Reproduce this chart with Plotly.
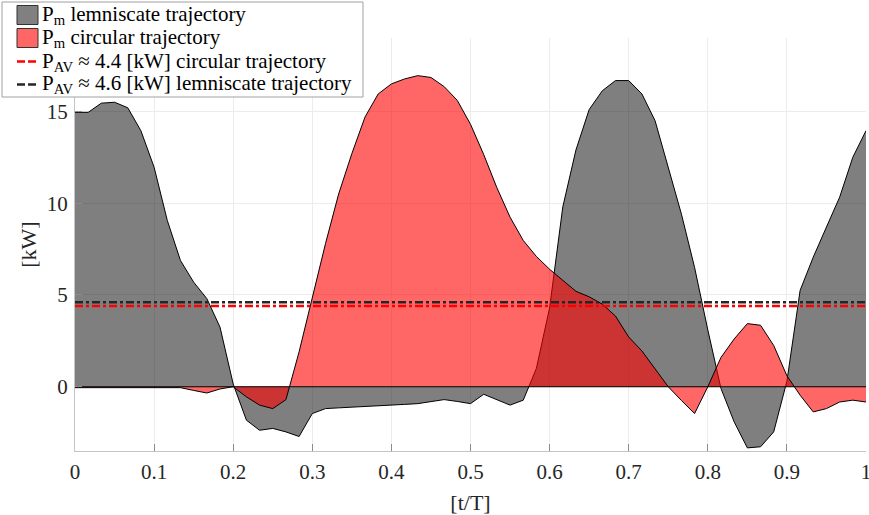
import plotly.graph_objects as go

# normalized time t/T
t = [0.0, 0.0167, 0.0333, 0.05, 0.0667, 0.0833, 0.1, 0.1167, 0.1333, 0.15,
     0.1667, 0.1833, 0.2, 0.2167, 0.2333, 0.25, 0.2667, 0.2833, 0.3, 0.3167,
     0.3333, 0.35, 0.3667, 0.3833, 0.4, 0.4167, 0.4333, 0.45, 0.4667, 0.4833,
     0.5, 0.5167, 0.5333, 0.55, 0.5667, 0.5833, 0.6, 0.6167, 0.6333, 0.65,
     0.6667, 0.6833, 0.7, 0.7167, 0.7333, 0.75, 0.7667, 0.7833, 0.8, 0.8167,
     0.8333, 0.85, 0.8667, 0.8833, 0.9, 0.9167, 0.9333, 0.95, 0.9667, 0.9833, 1.0]

# P_m lemniscate trajectory [kW]
p_lemniscate = [14.95, 14.95, 15.45, 15.5, 15.2, 13.95, 11.96, 9.06, 6.88, 5.7,
                4.8, 3.25, 0.15, -1.82, -2.37, -2.27, -2.46, -2.71, -1.46, -1.19,
                -1.15, -1.12, -1.08, -1.04, -1.0, -0.96, -0.92, -0.8, -0.7, -0.8,
                -0.92, -0.41, -0.72, -1.0, -0.73, 1.0, 4.3, 9.8, 12.9, 15.1,
                16.13, 16.68, 16.68, 15.95, 14.5, 11.9, 9.4, 6.5, 3.1, -0.1,
                -1.91, -3.33, -3.27, -2.46, 0.3, 5.25, 7.06, 8.7, 10.33, 12.5, 13.95]

# P_m circular trajectory [kW]
p_circular = [-0.05, -0.05, -0.05, -0.05, -0.05, -0.05, -0.05, -0.05, -0.05, -0.2,
              -0.34, -0.12, 0.0, -0.55, -1.0, -1.19, -0.7, 1.9, 4.9, 7.8,
              10.5, 12.7, 14.7, 15.95, 16.5, 16.77, 16.95, 16.85, 16.35, 15.6,
              14.3, 12.65, 10.85, 9.24, 7.97, 7.1, 6.4, 5.8, 5.2, 4.9,
              4.5, 3.85, 2.71, 1.95, 0.95, 0.0, -0.75, -1.46, 0.0, 1.6,
              2.6, 3.44, 3.35, 2.25, 0.6, -0.46, -1.37, -1.19, -0.83, -0.73, -0.83]

# average powers [kW]
p_av_circular = 4.4
p_av_lemniscate = 4.6

labels = ["P<sub>m</sub> lemniscate trajectory",
          "P<sub>m</sub> circular trajectory",
          "P<sub>AV</sub> \u2248 4.4 [kW] circular trajectory",
          "P<sub>AV</sub> \u2248 4.6 [kW] lemniscate trajectory"]

x_ticks = [0, 0.1, 0.2, 0.3, 0.4, 0.5, 0.6, 0.7, 0.8, 0.9, 1]
x_ticklabels = ["0", "0.1", "0.2", "0.3", "0.4", "0.5", "0.6", "0.7", "0.8", "0.9", "1"]
y_ticks = [0, 5, 10, 15]

GRAY_FILL = "rgba(0,0,0,0.5)"
RED_FILL = "rgba(255,0,0,0.6)"
RED_LINE = "#ff0000"
DARK_LINE = "#262626"
FONT = "Liberation Serif"
DASHDOT = "8px,3px,3px,3px"

W, H = 869, 515
ML, MR, MT, MB = 75, 3, 38, 64

fig = go.Figure()

fig.add_trace(go.Scatter(x=t, y=p_lemniscate, mode="lines", fill="tozeroy",
                         fillcolor=GRAY_FILL, line=dict(color="black", width=1),
                         name=labels[0], showlegend=False, hoverinfo="skip"))
fig.add_trace(go.Scatter(x=t, y=p_circular, mode="lines", fill="tozeroy",
                         fillcolor=RED_FILL, line=dict(color="black", width=1),
                         name=labels[1], showlegend=False, hoverinfo="skip"))
# area baseline
fig.add_trace(go.Scatter(x=[t[0], t[-1]], y=[0, 0], mode="lines",
                         line=dict(color="black", width=1), showlegend=False,
                         hoverinfo="skip"))
# average lines
fig.add_trace(go.Scatter(x=[t[0], t[-1]], y=[p_av_circular, p_av_circular], mode="lines",
                         line=dict(color=RED_LINE, width=2.6, dash=DASHDOT),
                         name=labels[2], showlegend=False))
fig.add_trace(go.Scatter(x=[t[0], t[-1]], y=[p_av_lemniscate, p_av_lemniscate], mode="lines",
                         line=dict(color=DARK_LINE, width=2.6, dash=DASHDOT),
                         name=labels[3], showlegend=False))

axis_common = dict(showline=True, linecolor="#c4c4c4", linewidth=1,
                   ticks="inside", ticklen=7, tickcolor="#8c8c8c", tickwidth=1,
                   showgrid=True, gridcolor="#ececec", gridwidth=1,
                   zeroline=False, mirror=False, automargin=False,
                   ticklabeloverflow="allow",
                   tickfont=dict(family=FONT, size=21, color="#262626"))

fig.update_xaxes(range=[0, 1], tickvals=x_ticks, ticktext=x_ticklabels,
                 title=dict(text="[t/T]", font=dict(family=FONT, size=22, color="#262626"),
                            standoff=13),
                 ticklabelstandoff=2, **axis_common)
fig.update_yaxes(range=[-3.5, 19], tickvals=y_ticks,
                 title=dict(text="[kW]", font=dict(family=FONT, size=22, color="#262626"),
                            standoff=4),
                 ticklabelstandoff=2, **axis_common)

# ---- legend drawn in paper coordinates (pixel layout converted) ----
PW = W - ML - MR
PH = H - MT - MB


def px(xp):
    return (xp - ML) / PW


def py(yp):
    return (H - MB - yp) / PH


shapes = []
annotations = []
# legend box
shapes.append(dict(type="rect", xref="paper", yref="paper",
                   x0=px(2), x1=px(363), y0=py(97), y1=py(2),
                   line=dict(color="#a0a0a0", width=1), fillcolor="white", layer="above"))
row_y = [15, 38, 61.5, 84.5]
# filled patches
for yc, col in [(row_y[0], "#808080"), (row_y[1], "#ff6666")]:
    shapes.append(dict(type="rect", xref="paper", yref="paper",
                       x0=px(17), x1=px(38), y0=py(yc + 9.5), y1=py(yc - 9.5),
                       line=dict(color="#333333", width=1), fillcolor=col, layer="above"))
# dashed samples
for yc, col in [(row_y[2], RED_LINE), (row_y[3], DARK_LINE)]:
    shapes.append(dict(type="line", xref="paper", yref="paper",
                       x0=px(17), x1=px(38), y0=py(yc), y1=py(yc),
                       line=dict(color=col, width=2.6, dash="8px,3px"), layer="above"))
for yc, lab in zip(row_y, labels):
    annotations.append(dict(xref="paper", yref="paper", x=px(40), y=py(yc),
                            xanchor="left", yanchor="middle", text=lab, showarrow=False,
                            font=dict(family=FONT, size=21, color="black")))

fig.update_layout(
    width=W, height=H, autosize=False,
    margin=dict(l=ML, r=MR, t=MT, b=MB),
    plot_bgcolor="white", paper_bgcolor="white",
    font=dict(family=FONT, size=21, color="black"),
    showlegend=False,
    shapes=shapes, annotations=annotations,
)

fig.write_html("out.html", config={"displayModeBar": False},
               post_script="document.body.style.margin='0';")
